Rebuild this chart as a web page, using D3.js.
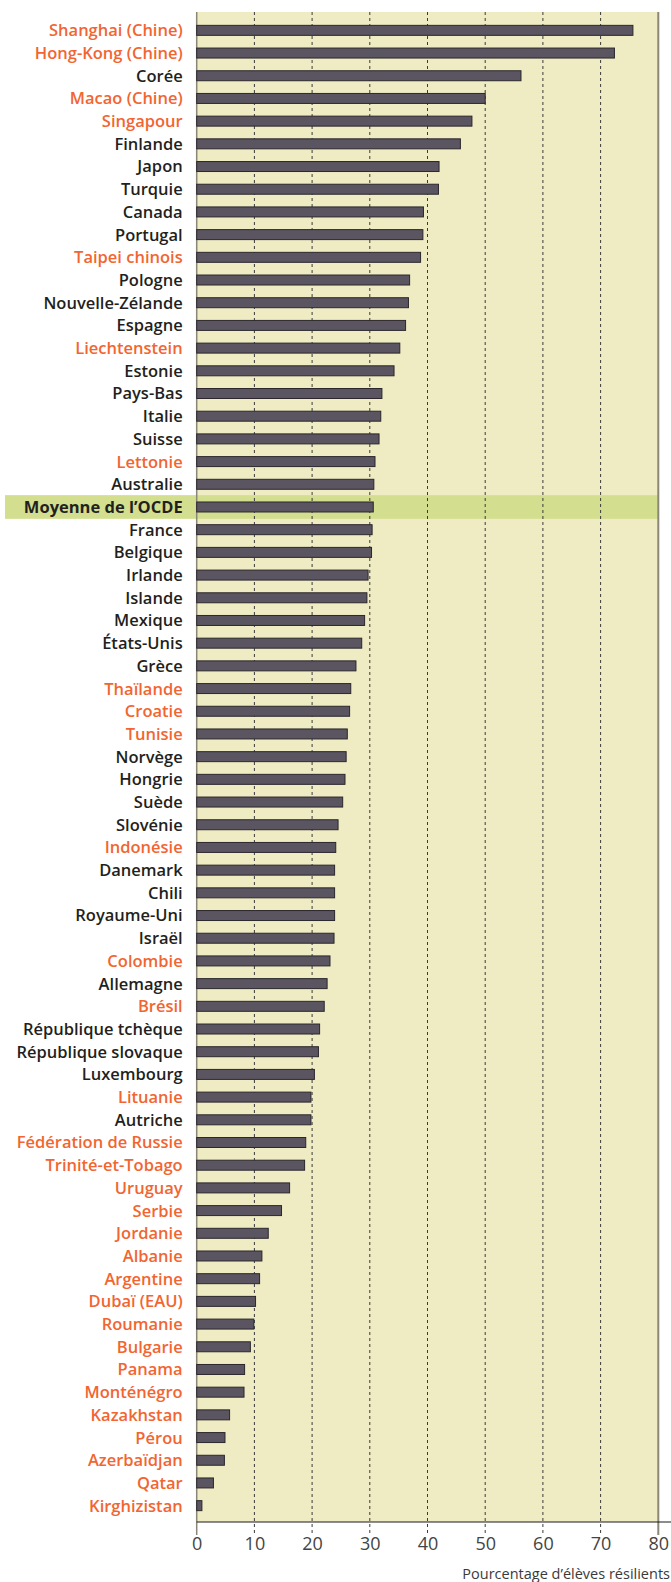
<!DOCTYPE html>
<html>
<head>
<meta charset="utf-8">
<script src="https://cdn.jsdelivr.net/npm/d3@7"></script>
<style>
  body { margin: 0; background: #fff; }
  text { font-family: "Open Sans", "DejaVu Sans", sans-serif; }
</style>
</head>
<body>
<div id="chart"></div>
<script>
// pays / économies, du plus haut au plus bas
const countries = [
  'Shanghai (Chine)', 'Hong-Kong (Chine)', 'Corée', 'Macao (Chine)', 'Singapour',
  'Finlande', 'Japon', 'Turquie', 'Canada', 'Portugal', 'Taipei chinois', 'Pologne',
  'Nouvelle-Zélande', 'Espagne', 'Liechtenstein', 'Estonie', 'Pays-Bas', 'Italie',
  'Suisse', 'Lettonie', 'Australie', 'Moyenne de l’OCDE', 'France', 'Belgique',
  'Irlande', 'Islande', 'Mexique', 'États-Unis', 'Grèce', 'Thaïlande', 'Croatie',
  'Tunisie', 'Norvège', 'Hongrie', 'Suède', 'Slovénie', 'Indonésie', 'Danemark',
  'Chili', 'Royaume-Uni', 'Israël', 'Colombie', 'Allemagne', 'Brésil',
  'République tchèque', 'République slovaque', 'Luxembourg', 'Lituanie', 'Autriche',
  'Fédération de Russie', 'Trinité-et-Tobago', 'Uruguay', 'Serbie', 'Jordanie',
  'Albanie', 'Argentine', 'Dubaï (EAU)', 'Roumanie', 'Bulgarie', 'Panama',
  'Monténégro', 'Kazakhstan', 'Pérou', 'Azerbaïdjan', 'Qatar', 'Kirghizistan'
]

// pourcentage d'élèves résilients
const values = [
  75.6, 72.4, 56.2, 50.0, 47.7, 45.7, 42.0, 41.9, 39.3, 39.2, 38.8, 36.9,
  36.7, 36.2, 35.2, 34.2, 32.1, 31.9, 31.6, 30.9, 30.7, 30.6, 30.4, 30.3,
  29.7, 29.5, 29.1, 28.6, 27.6, 26.7, 26.5, 26.1, 25.9, 25.7, 25.3, 24.5,
  24.1, 23.9, 23.9, 23.9, 23.8, 23.1, 22.6, 22.1, 21.3, 21.1, 20.4, 19.8,
  19.8, 18.9, 18.7, 16.1, 14.7, 12.4, 11.3, 10.9, 10.2, 9.9, 9.3, 8.3,
  8.2, 5.7, 4.9, 4.8, 2.9, 0.9
]

// pays partenaires (hors OCDE), en orange
const partners = [
  'Shanghai (Chine)', 'Hong-Kong (Chine)', 'Macao (Chine)', 'Singapour', 'Taipei chinois',
  'Liechtenstein', 'Lettonie', 'Thaïlande', 'Croatie', 'Tunisie', 'Indonésie', 'Colombie',
  'Brésil', 'Lituanie', 'Fédération de Russie', 'Trinité-et-Tobago', 'Uruguay', 'Serbie',
  'Jordanie', 'Albanie', 'Argentine', 'Dubaï (EAU)', 'Roumanie', 'Bulgarie', 'Panama',
  'Monténégro', 'Kazakhstan', 'Pérou', 'Azerbaïdjan', 'Qatar', 'Kirghizistan'
]

const average = 'Moyenne de l’OCDE'
const ticks = [0, 10, 20, 30, 40, 50, 60, 70, 80]
const xTitle = 'Pourcentage d’élèves résilients'

const data = countries.map((c, i) => ({ name: c, value: values[i] }))

const width = 671
const height = 1582
const margin = { top: 12, left: 196.7, right: 12.7, bottom: 60 }
const plotW = width - margin.left - margin.right
const plotH = height - margin.top - margin.bottom

const svg = d3.select('#chart')
  .append('svg')
  .attr('width', width)
  .attr('height', height)

const g = svg.append('g')
  .attr('transform', 'translate(' + margin.left + ',' + margin.top + ')')

const x = d3.scaleLinear().domain([0, 80]).range([0, plotW])

const y = d3.scaleBand()
  .domain(countries)
  .range([7, plotH - 5])
  .paddingInner(0.56)
  .paddingOuter(0.28)

// fond
g.append('rect')
  .attr('x', 0).attr('y', 0)
  .attr('width', plotW).attr('height', plotH)
  .attr('fill', '#efecc4')

// bande de la moyenne OCDE
const step = y.step()
g.append('rect')
  .attr('x', 5 - margin.left)
  .attr('y', y(average) + y.bandwidth() / 2 - step / 2 - 0.5)
  .attr('width', plotW + margin.left - 5)
  .attr('height', step + 1)
  .attr('fill', '#d3df8f')

// grille pointillée
g.selectAll('.grid')
  .data(ticks.filter(t => t > 0 && t < 80))
  .enter()
  .append('line')
  .attr('class', 'grid')
  .attr('x1', d => x(d)).attr('x2', d => x(d))
  .attr('y1', 0).attr('y2', plotH + 13)
  .attr('stroke', '#3a3a3a')
  .attr('stroke-width', 1)
  .attr('stroke-dasharray', '3,3')

// bords gauche et droit
g.append('line')
  .attr('x1', 0).attr('x2', 0)
  .attr('y1', 0).attr('y2', plotH + 13)
  .attr('stroke', '#8a8678').attr('stroke-width', 1.5)
g.append('line')
  .attr('x1', x(80)).attr('x2', x(80))
  .attr('y1', 0).attr('y2', plotH + 13)
  .attr('stroke', '#8a8678').attr('stroke-width', 2)

// barres
g.selectAll('.bar')
  .data(data)
  .enter()
  .append('rect')
  .attr('class', 'bar')
  .attr('x', 0)
  .attr('y', d => y(d.name))
  .attr('width', d => x(d.value))
  .attr('height', y.bandwidth())
  .attr('fill', '#5a5560')
  .attr('stroke', '#2b272c')
  .attr('stroke-width', 1)

// étiquettes
g.selectAll('.label')
  .data(data)
  .enter()
  .append('text')
  .attr('class', 'label')
  .attr('x', -14)
  .attr('y', d => y(d.name) + y.bandwidth() / 2)
  .attr('dy', '0.36em')
  .attr('text-anchor', 'end')
  .attr('font-size', '16.5px')
  .attr('font-weight', d => d.name === average ? 700 : 600)
  .attr('fill', d => partners.includes(d.name) ? '#f26531' : '#231f20')
  .text(d => d.name)

// axe horizontal
const axis = g.append('g')
  .attr('transform', 'translate(0,' + plotH + ')')
  .call(d3.axisBottom(x).tickValues(ticks).tickSize(0).tickPadding(15))

axis.select('.domain').remove()
axis.selectAll('text')
  .attr('font-size', '18px')
  .attr('fill', '#444')
  .attr('font-family', '"Open Sans", sans-serif')

g.append('line')
  .attr('x1', 0).attr('x2', width - margin.left)
  .attr('y1', plotH).attr('y2', plotH)
  .attr('stroke', '#1a1a1a').attr('stroke-width', 1.2)

svg.append('text')
  .attr('x', width - 1)
  .attr('y', height - 3)
  .attr('text-anchor', 'end')
  .attr('font-size', '14.5px')
  .attr('fill', '#3a3a3a')
  .text(xTitle)
</script>
</body>
</html>
